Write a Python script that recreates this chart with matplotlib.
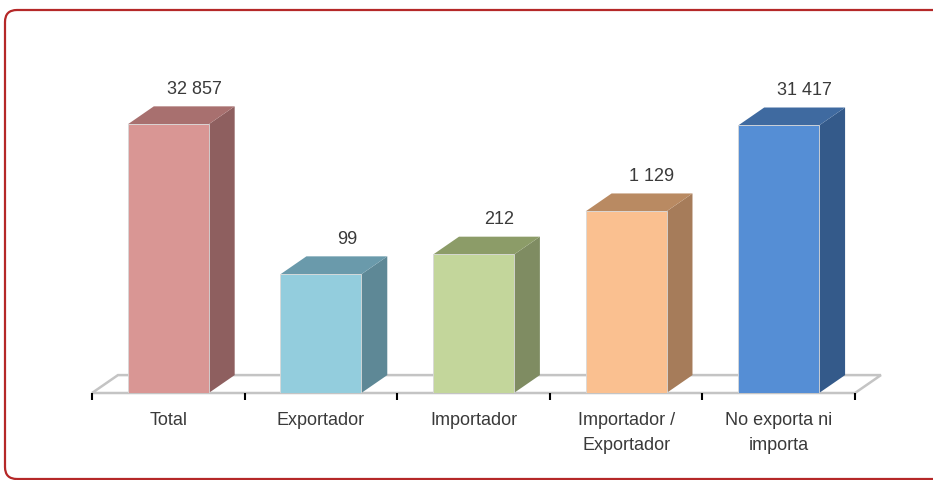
import matplotlib
matplotlib.use('Agg')
import matplotlib.pyplot as plt
from matplotlib.patches import Polygon, FancyBboxPatch

categorias = ['Total', 'Exportador', 'Importador', 'Importador /\nExportador', 'No exporta ni\nimporta']
valores = [32857, 99, 212, 1129, 31417]
etiquetas = ['32 857', '99', '212', '1 129', '31 417']
frente = ['#d99694', '#93cddd', '#c3d69b', '#fac090', '#558ed5']
lateral = ['#8e5f5f', '#5e8896', '#7f8c62', '#a67c5a', '#345a8a']
tapa = ['#a8706f', '#6a9aab', '#8c9c68', '#b98a62', '#3f6aa0']

plt.rcParams['font.family'] = ['Liberation Sans', 'DejaVu Sans']

fig = plt.figure(figsize=(9.33, 4.8), dpi=100)
ax = fig.add_axes([92 / 933, 87 / 480, (855 - 92) / 933, 340 / 480])
ax.set_yscale('log')
ax.set_xlim(-0.5, 4.5)
ax.set_ylim(1, 10 ** (340 / 59.5))

dx = 0.17   # profundidad en categorias
k = 2.0     # profundidad en escala log
w = 0.53

# piso
piso = Polygon([(-0.5, 1), (4.5, 1), (4.5 + dx, k), (-0.5 + dx, k)],
               closed=True, facecolor='white', edgecolor='#c4c4c4', lw=1.8, clip_on=False, zorder=1)
ax.add_patch(piso)

for i, v in enumerate(valores):
    x0, x1 = i - w / 2, i + w / 2
    lado = Polygon([(x1, 1), (x1 + dx, k), (x1 + dx, v * k), (x1, v)],
                   closed=True, facecolor=lateral[i], edgecolor='none', clip_on=False, zorder=2)
    arriba = Polygon([(x0, v), (x1, v), (x1 + dx, v * k), (x0 + dx, v * k)],
                     closed=True, facecolor=tapa[i], edgecolor='none', clip_on=False, zorder=2)
    ax.add_patch(lado)
    ax.add_patch(arriba)
    ax.bar(i, v, width=w, bottom=1, color=frente[i], edgecolor='#d8d8d8', lw=0.6, zorder=3)
    ax.annotate(etiquetas[i], (i + dx, v * k), xytext=(0, 6), textcoords='offset points',
                ha='center', va='bottom', fontsize=13, color='#3a3a3a')

for s in ax.spines.values():
    s.set_visible(False)
ax.yaxis.set_visible(False)
ax.set_xticks([-0.5, 0.5, 1.5, 2.5, 3.5, 4.5])
ax.set_xticklabels([])
ax.tick_params(axis='x', which='major', direction='out', length=5, width=1.5, color='black')
ax.set_xticks(range(len(categorias)), minor=True)
ax.set_xticklabels(categorias, minor=True, fontsize=13, color='#3a3a3a', linespacing=1.55)
ax.tick_params(axis='x', which='minor', length=0, pad=14)

# marco rojo redondeado
marco = FancyBboxPatch((0.05, 0.01), 9.6, 4.69, boxstyle='round,pad=0,rounding_size=0.12',
                       transform=fig.dpi_scale_trans, facecolor='none', edgecolor='#b52828',
                       lw=1.6, clip_on=False)
fig.patches.append(marco)

fig.savefig('out.png', dpi=100)
